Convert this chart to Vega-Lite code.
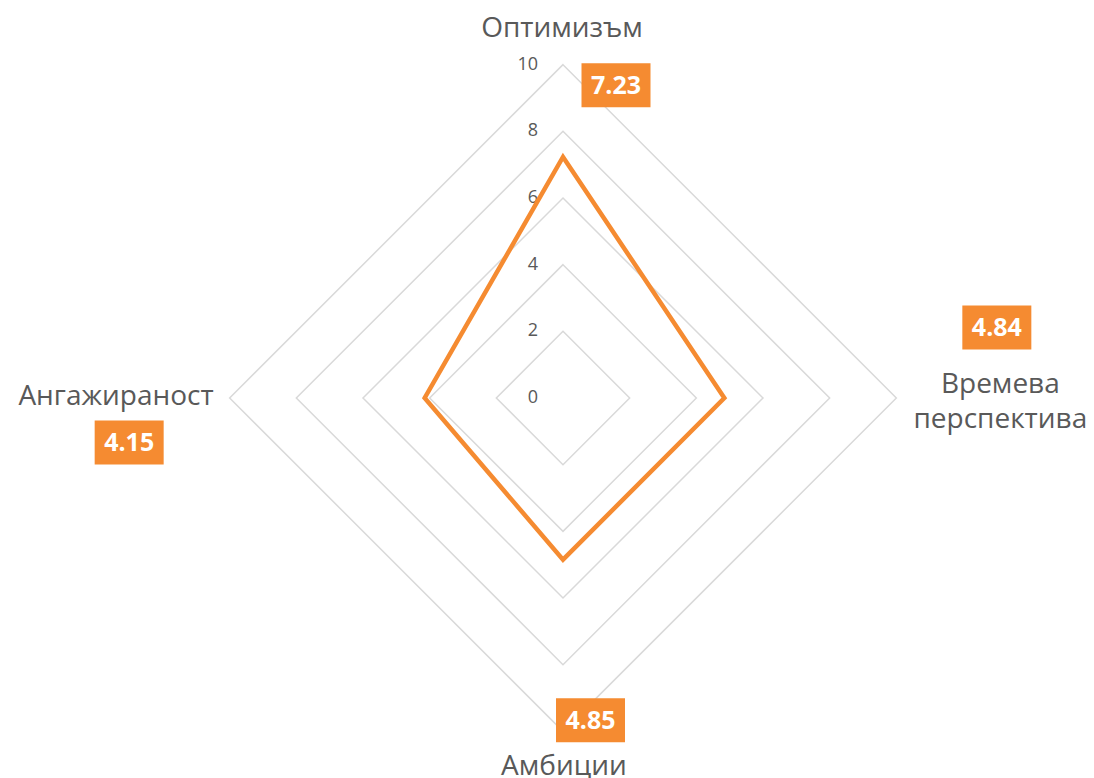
{
  "$schema": "https://vega.github.io/schema/vega-lite/v6.json",
  "width": 1094,
  "height": 778,
  "padding": 0,
  "autosize": {"type": "none"},
  "background": "white",
  "config": {"view": {"stroke": null}, "font": "Open Sans"},
  "datasets": {
    "scores": [
      {"cat": "Оптимизъм", "idx": 0, "value": 7.23},
      {"cat": "Времева перспектива", "idx": 1, "value": 4.84},
      {"cat": "Амбиции", "idx": 2, "value": 4.85},
      {"cat": "Ангажираност", "idx": 3, "value": 4.15}
    ],
    "rings": [
      {"level": 2, "k": [0, 1, 2, 3]},
      {"level": 4, "k": [0, 1, 2, 3]},
      {"level": 6, "k": [0, 1, 2, 3]},
      {"level": 8, "k": [0, 1, 2, 3]},
      {"level": 10, "k": [0, 1, 2, 3]}
    ],
    "ticks": [
      {"level": 0}, {"level": 2}, {"level": 4}, {"level": 6}, {"level": 8}, {"level": 10}
    ]
  },
  "encoding": {
    "x": {"field": "x", "type": "quantitative", "scale": {"domain": [-16.89, 15.93], "nice": false, "zero": false}, "axis": null},
    "y": {"field": "y", "type": "quantitative", "scale": {"domain": [-11.4, 11.94], "nice": false, "zero": false}, "axis": null}
  },
  "layer": [
    {
      "data": {"name": "rings"},
      "transform": [
        {"flatten": ["k"]},
        {"calculate": "datum.level * sin(datum.k * PI / 2)", "as": "x"},
        {"calculate": "datum.level * cos(datum.k * PI / 2)", "as": "y"}
      ],
      "mark": {"type": "line", "interpolate": "linear-closed", "stroke": "#D9D9D9", "strokeWidth": 1.5},
      "encoding": {
        "detail": {"field": "level", "type": "nominal"},
        "order": {"field": "k", "type": "quantitative"}
      }
    },
    {
      "data": {"name": "ticks"},
      "transform": [
        {"calculate": "0", "as": "x"},
        {"calculate": "datum.level", "as": "y"}
      ],
      "mark": {"type": "text", "align": "right", "baseline": "middle", "dx": -25, "fontSize": 18, "fill": "#595959"},
      "encoding": {"text": {"field": "level", "type": "quantitative"}}
    },
    {
      "data": {"name": "scores"},
      "transform": [
        {"calculate": "datum.value * sin(datum.idx * PI / 2)", "as": "x"},
        {"calculate": "datum.value * cos(datum.idx * PI / 2)", "as": "y"}
      ],
      "mark": {"type": "line", "interpolate": "linear-closed", "stroke": "#F58B31", "strokeWidth": 4.5},
      "encoding": {"order": {"field": "idx", "type": "quantitative"}}
    },
    {
      "data": {"name": "scores"},
      "transform": [
        {"filter": "datum.idx == 0"},
        {"calculate": "10 * sin(datum.idx * PI / 2)", "as": "x"},
        {"calculate": "10 * cos(datum.idx * PI / 2)", "as": "y"}
      ],
      "layer": [
        {"mark": {"type": "text", "align": "center", "baseline": "alphabetic", "dx": -1, "dy": -28, "fontSize": 28, "fill": "#595959"},
         "encoding": {"text": {"field": "cat", "type": "nominal"}}},
        {"mark": {"type": "point", "shape": "M-1,-0.638H1V0.638H-1Z", "filled": true, "fill": "#F58B31", "opacity": 1, "strokeWidth": 0, "size": 4761},
         "encoding": {"xOffset": {"value": 53}, "yOffset": {"value": 20.5}}},
        {"mark": {"type": "text", "align": "center", "baseline": "middle", "dx": 53, "dy": 21, "fontSize": 25, "fontWeight": "bold", "fill": "white"},
         "encoding": {"text": {"field": "value", "type": "quantitative", "format": ".2f"}}}
      ]
    },
    {
      "data": {"name": "scores"},
      "transform": [
        {"filter": "datum.idx == 1"},
        {"calculate": "10 * sin(datum.idx * PI / 2)", "as": "x"},
        {"calculate": "10 * cos(datum.idx * PI / 2)", "as": "y"}
      ],
      "layer": [
        {"mark": {"type": "text", "align": "center", "baseline": "alphabetic", "dx": 104, "dy": -5, "fontSize": 28, "fill": "#595959", "lineBreak": " ", "lineHeight": 35},
         "encoding": {"text": {"field": "cat", "type": "nominal"}}},
        {"mark": {"type": "point", "shape": "M-1,-0.638H1V0.638H-1Z", "filled": true, "fill": "#F58B31", "opacity": 1, "strokeWidth": 0, "size": 4761},
         "encoding": {"xOffset": {"value": 100.5}, "yOffset": {"value": -70.5}}},
        {"mark": {"type": "text", "align": "center", "baseline": "middle", "dx": 100.5, "dy": -70, "fontSize": 25, "fontWeight": "bold", "fill": "white"},
         "encoding": {"text": {"field": "value", "type": "quantitative", "format": ".2f"}}}
      ]
    },
    {
      "data": {"name": "scores"},
      "transform": [
        {"filter": "datum.idx == 2"},
        {"calculate": "10 * sin(datum.idx * PI / 2)", "as": "x"},
        {"calculate": "10 * cos(datum.idx * PI / 2)", "as": "y"}
      ],
      "layer": [
        {"mark": {"type": "text", "align": "center", "baseline": "alphabetic", "dx": 1, "dy": 44, "fontSize": 28, "fill": "#595959"},
         "encoding": {"text": {"field": "cat", "type": "nominal"}}},
        {"mark": {"type": "point", "shape": "M-1,-0.638H1V0.638H-1Z", "filled": true, "fill": "#F58B31", "opacity": 1, "strokeWidth": 0, "size": 4761},
         "encoding": {"xOffset": {"value": 27.5}, "yOffset": {"value": -11}}},
        {"mark": {"type": "text", "align": "center", "baseline": "middle", "dx": 27.5, "dy": -10.5, "fontSize": 25, "fontWeight": "bold", "fill": "white"},
         "encoding": {"text": {"field": "value", "type": "quantitative", "format": ".2f"}}}
      ]
    },
    {
      "data": {"name": "scores"},
      "transform": [
        {"filter": "datum.idx == 3"},
        {"calculate": "10 * sin(datum.idx * PI / 2)", "as": "x"},
        {"calculate": "10 * cos(datum.idx * PI / 2)", "as": "y"}
      ],
      "layer": [
        {"mark": {"type": "text", "align": "right", "baseline": "alphabetic", "dx": -16, "dy": 7, "fontSize": 28, "fill": "#595959"},
         "encoding": {"text": {"field": "cat", "type": "nominal"}}},
        {"mark": {"type": "point", "shape": "M-1,-0.638H1V0.638H-1Z", "filled": true, "fill": "#F58B31", "opacity": 1, "strokeWidth": 0, "size": 4761},
         "encoding": {"xOffset": {"value": -100.5}, "yOffset": {"value": 44.5}}},
        {"mark": {"type": "text", "align": "center", "baseline": "middle", "dx": -100.5, "dy": 45, "fontSize": 25, "fontWeight": "bold", "fill": "white"},
         "encoding": {"text": {"field": "value", "type": "quantitative", "format": ".2f"}}}
      ]
    }
  ]
}
